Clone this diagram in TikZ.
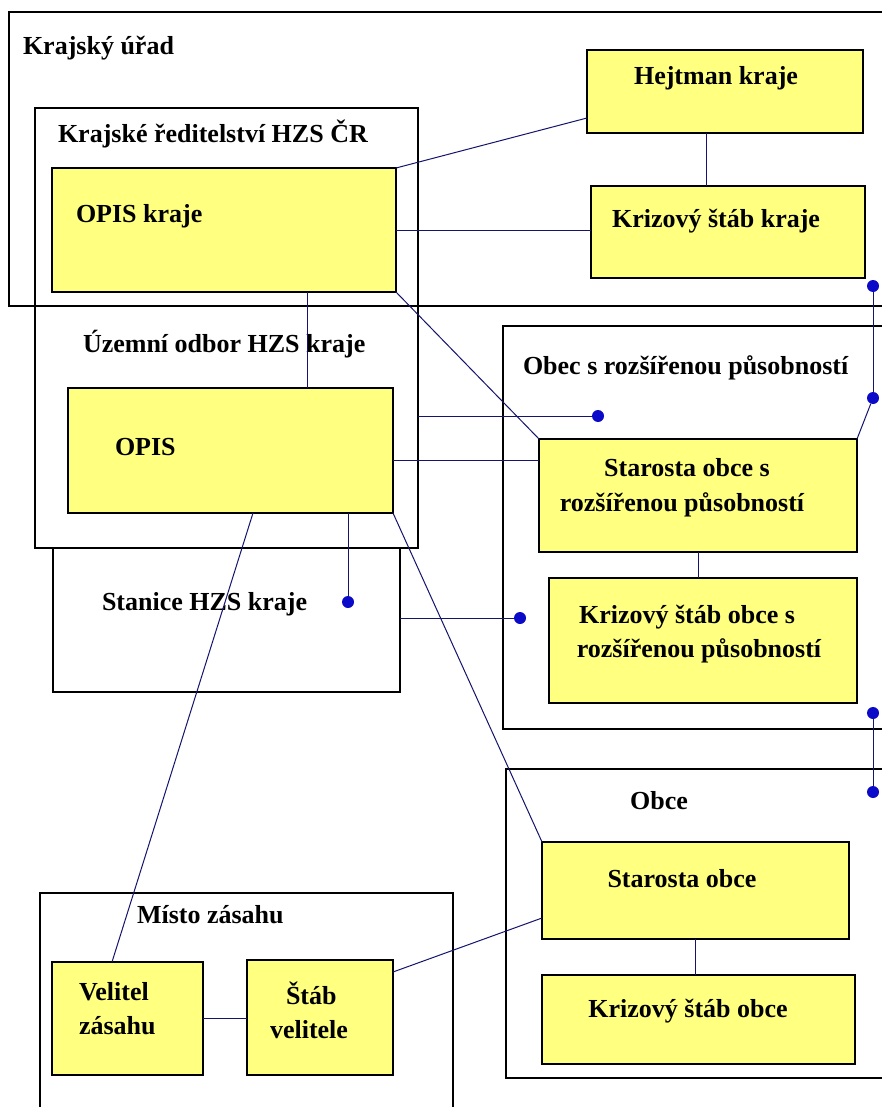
\documentclass[tikz,border=0pt]{standalone}
\usepackage{fontspec}
\setmainfont{Liberation Serif}
\definecolor{ylw}{RGB}{255,255,128}
\definecolor{navy}{RGB}{20,20,110}
\definecolor{dotb}{RGB}{10,10,200}
\begin{document}
\begin{tikzpicture}[x=1pt,y=-1pt,
  frame/.style={draw=black, line width=1.5pt, rectangle, inner sep=0pt, outer sep=0pt, anchor=north west},
  ybox/.style={frame, fill=ylw},
  lbl/.style={font=\fontsize{26}{35}\selectfont\bfseries, inner sep=0pt, outer sep=0pt},
  lw/.style={lbl, anchor=base west},
  lc/.style={lbl, anchor=base},
  conn/.style={draw=navy, line width=1pt},
  dot/.style={circle, fill=dotb, inner sep=0pt, minimum size=12pt}]
\useasboundingbox (0,0) rectangle (882,1107);
\clip (0,0) rectangle (882,1107);
\fill[white] (0,0) rectangle (882,1107);

% group frames
\node[frame, minimum width=891pt, minimum height=294pt] (KU) at (9,12) {};
\node[frame, minimum width=383pt, minimum height=440pt] (KR) at (35,108) {};
\node[frame, minimum width=347pt, minimum height=144pt] (ST) at (53,548) {};
\node[frame, minimum width=397pt, minimum height=403pt] (OR) at (503,326) {};
\node[frame, minimum width=394pt, minimum height=309pt] (OB) at (506,769) {};
\node[frame, minimum width=413pt, minimum height=240pt] (MZ) at (40,893) {};

% yellow boxes
\node[ybox, minimum width=344pt, minimum height=124pt] (OPISK) at (52,168) {};
\node[ybox, minimum width=276pt, minimum height=83pt] (HEJ) at (587,50) {};
\node[ybox, minimum width=274pt, minimum height=92pt] (KSK) at (591,186) {};
\node[ybox, minimum width=325pt, minimum height=125pt] (OPIS) at (68,388) {};
\node[ybox, minimum width=318pt, minimum height=113pt] (SOR) at (539,439) {};
\node[ybox, minimum width=308pt, minimum height=125pt] (KSOR) at (549,578) {};
\node[ybox, minimum width=307pt, minimum height=97pt] (SO) at (542,842) {};
\node[ybox, minimum width=313pt, minimum height=89pt] (KSO) at (542,975) {};
\node[ybox, minimum width=151pt, minimum height=113pt] (VZ) at (52,962) {};
\node[ybox, minimum width=146pt, minimum height=115pt] (SV) at (247,960) {};

% labels
\node[lw] (tKU) at (23,55) {Krajský úřad};
\node[lw] (tKR) at (58,143) {Krajské ředitelství HZS ČR};
\node[lw] (tOPISK) at (76,223) {OPIS kraje};
\node[lc] (tHEJ) at (716,85) {Hejtman kraje};
\node[lc] (tKSK) at (716,228) {Krizový štáb kraje};
\node[lw] (tUO) at (83,352) {Územní odbor HZS kraje};
\node[lw] (tOPIS) at (115,455) {OPIS};
\node[lw] (tOR) at (523,374) {Obec s rozšířenou působností};
\node[lc] (tSOR1) at (687,476) {Starosta obce s};
\node[lc] (tSOR2) at (682,511) {rozšířenou působností};
\node[lc] (tKSOR1) at (687,623) {Krizový štáb obce s};
\node[lc] (tKSOR2) at (699,657) {rozšířenou působností};
\node[lw] (tST) at (102,610) {Stanice HZS kraje};
\node[lc] (tOB) at (659,809) {Obce};
\node[lc] (tSO) at (682,887) {Starosta obce};
\node[lc] (tKSO) at (688,1017) {Krizový štáb obce};
\node[lw] (tMZ) at (137,923) {Místo zásahu};
\node[lw] (tVZ1) at (79,1000) {Velitel};
\node[lw] (tVZ2) at (79,1034) {zásahu};
\node[lw] (tSV1) at (286,1004) {Štáb};
\node[lw] (tSV2) at (270,1038) {velitele};

% dots
\node[dot] (d1) at (598,416) {};
\node[dot] (d2) at (348,602) {};
\node[dot] (d3) at (520,618) {};
\node[dot] (d4) at (873,286) {};
\node[dot] (d5) at (873,398) {};
\node[dot] (d6) at (873,713) {};
\node[dot] (d7) at (873,792) {};

% connectors
\draw[conn] (OPISK.north east) -- ([yshift=15pt]HEJ.south west);
\draw[conn] ([xshift=-19pt]HEJ.south) -- ([xshift=-19pt]HEJ.south |- KSK.north);
\draw[conn] ([yshift=-1pt]OPISK.east) -- ([yshift=-1pt]OPISK.east -| KSK.west);
\draw[conn] (OPISK.south east) -- (SOR.north west);
\draw[conn] ([xshift=83pt]OPISK.south) -- ([xshift=83pt]OPISK.south |- OPIS.north);
\draw[conn] (d1 -| KR.east) -- (d1);
\draw[conn] ([yshift=-10pt]OPIS.east) -- ([yshift=-10pt]OPIS.east -| SOR.west);
\draw[conn] (d2 |- OPIS.south) -- (d2);
\draw[conn] ([xshift=22.5pt]OPIS.south) -- ([xshift=-15.5pt]VZ.north);
\draw[conn] (OPIS.south east) -- (SO.north west);
\draw[conn] (d3 -| ST.east) -- (d3);
\draw[conn] (SOR.south) -- (SOR.south |- KSOR.north);
\draw[conn] (d4) -- (d5);
\draw[conn] (d5) -- (SOR.north east);
\draw[conn] (d6) -- (d7);
\draw[conn] (SO.south) -- (SO.south |- KSO.north);
\draw[conn] ([yshift=-12pt]SV.north east) -- ([yshift=-27.5pt]SO.west);
\draw[conn] (VZ.east) -- (VZ.east -| SV.west);
\end{tikzpicture}
\end{document}
